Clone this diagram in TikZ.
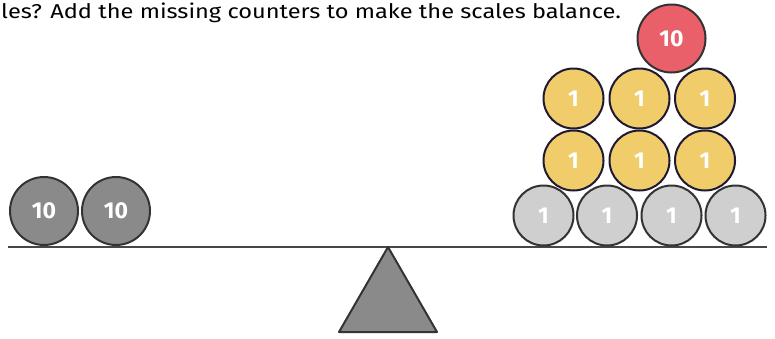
\documentclass[tikz,border=0pt]{standalone}
\usepackage{fontspec}
\setmainfont{Fira Sans}
\newfontfamily\qfont[FakeStretch=1.18]{Fira Sans}
\definecolor{darkc}{HTML}{333333}
\definecolor{navyc}{HTML}{1E1A33}
\definecolor{grayc}{HTML}{8A8A8A}
\definecolor{lightc}{HTML}{CFCFCF}
\definecolor{yellowc}{HTML}{F0CD6A}
\definecolor{redc}{HTML}{EA606A}
\begin{document}
\begin{tikzpicture}[x=1pt,y=-1pt,
  counter/.style={circle,draw=darkc,line width=2pt,inner sep=0pt,text=white,font=\fontsize{23}{23}\selectfont\bfseries},
  bigc/.style={counter,minimum size=68pt,fill=grayc},
  smallc/.style={counter,minimum size=60pt,fill=lightc},
  yelc/.style={counter,minimum size=60pt,fill=yellowc,draw=navyc},
  redcc/.style={counter,minimum size=68pt,fill=redc},
  beamst/.style={line width=2pt,draw=darkc!90},
  pivot/.style={fill=grayc,draw=darkc,line width=2pt,line join=round}]
\useasboundingbox (0,0) rectangle (775,338);
\node[anchor=base west,inner sep=0pt,font=\qfont\fontsize{20}{20}\selectfont] (q) at (1,18.5) {les? Add the missing counters to make the scales balance.};
% beam
\coordinate (bl) at (8,247);
\coordinate (br) at (767,247);
\draw[beamst] (bl) -- (br);
% pivot
\coordinate (apex) at (388,247);
\coordinate (pl) at (339,332);
\coordinate (pr) at (437,332);
\draw[pivot] (apex) -- (pl) -- (pr) -- cycle;
% left counters
\node[bigc] (l1) at (44,211) {10};
\node[bigc] (l2) at (116,211) {10};
% right bottom
\node[smallc] (g1) at (543.5,215.5) {1};
\node[smallc] (g2) at (607,215.5) {1};
\node[smallc] (g3) at (671.5,215.5) {1};
\node[smallc] (g4) at (735.5,215.5) {1};
% yellow rows
\node[yelc] (y1) at (573.5,160.5) {1};
\node[yelc] (y2) at (639.5,160.5) {1};
\node[yelc] (y3) at (705,160.5) {1};
\node[yelc] (y4) at (573.5,98.5) {1};
\node[yelc] (y5) at (639.5,98.5) {1};
\node[yelc] (y6) at (705,98.5) {1};
% red
\node[redcc] (r1) at (671.5,38.5) {10};
\end{tikzpicture}
\end{document}
